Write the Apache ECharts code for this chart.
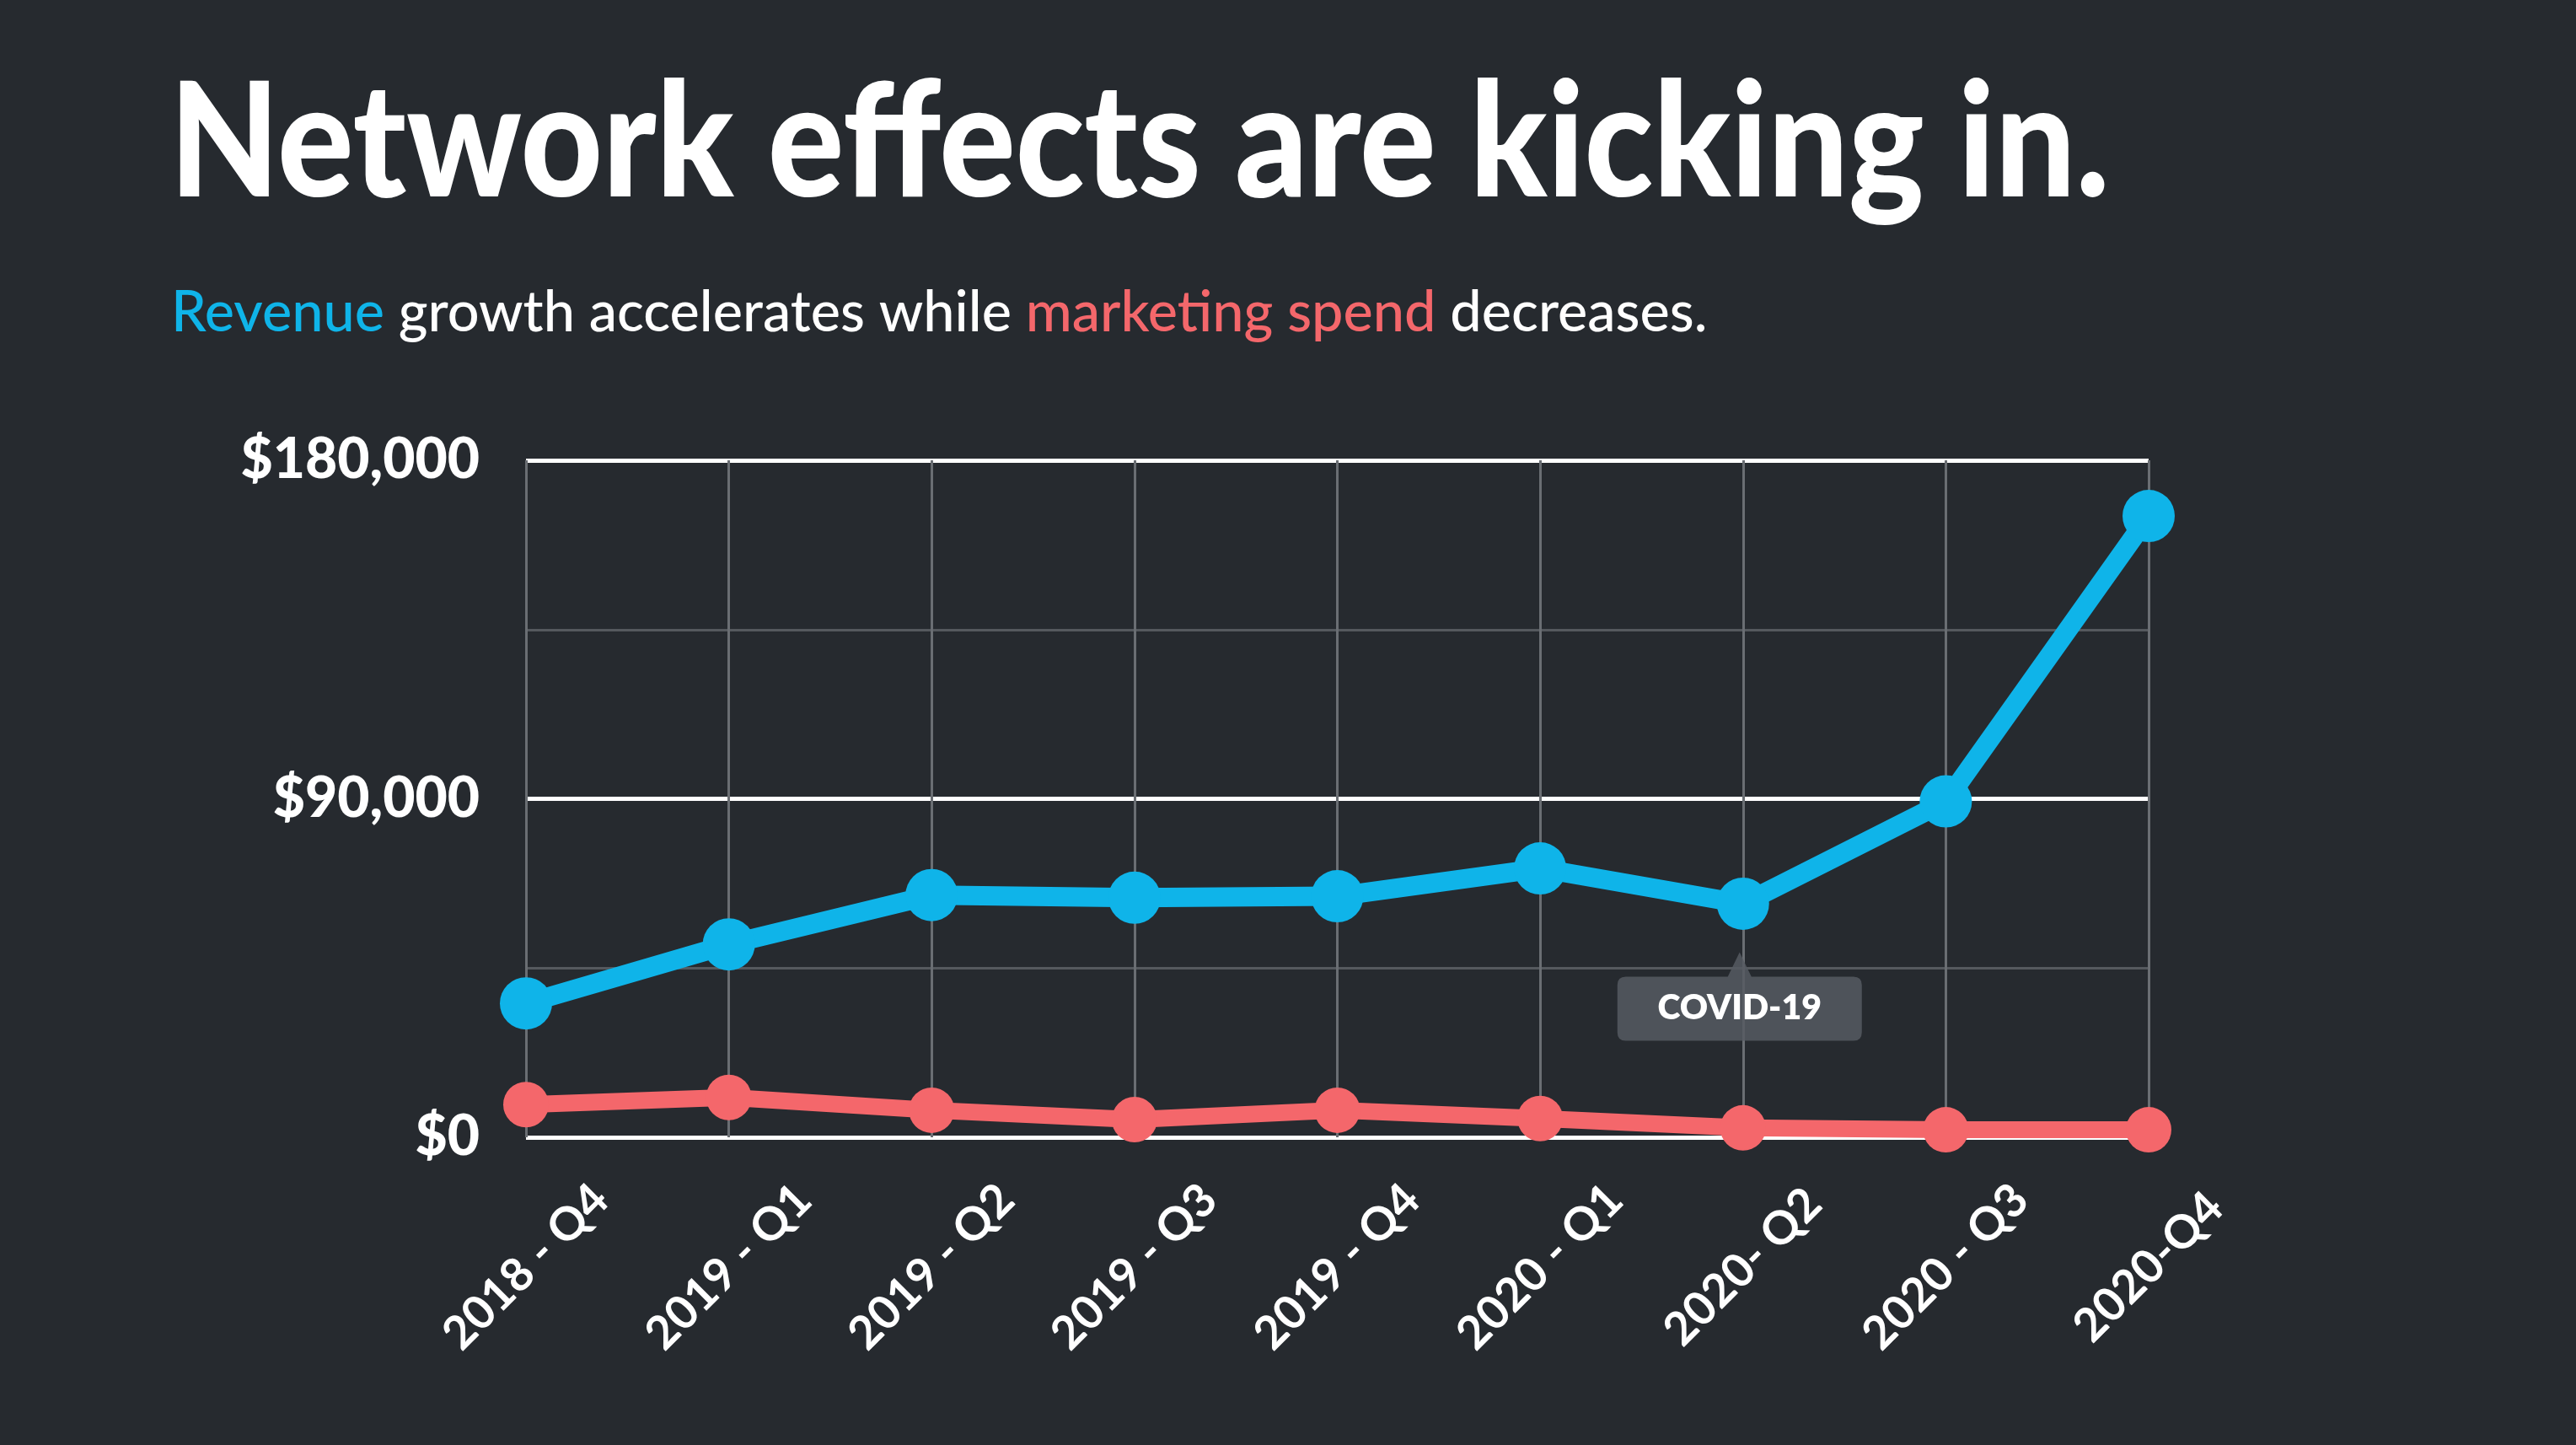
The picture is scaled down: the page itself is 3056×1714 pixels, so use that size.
<!DOCTYPE html>
<html>
<head>
<meta charset="utf-8">
<script src="https://cdn.jsdelivr.net/npm/echarts@6/dist/echarts.min.js"></script>
<style>
html,body{margin:0;padding:0;background:#262a2f;}
#chart{width:3056px;height:1714px;}
</style>
</head>
<body>
<div id="chart"></div>
<script>
const categories = ["2018 - Q4","2019 - Q1","2019 - Q2","2019 - Q3","2019 - Q4","2020 - Q1","2020- Q2","2020 - Q3","2020-Q4"];
const revenue = [35600, 51300, 64400, 63700, 64100, 71500, 62100, 89300, 165200];
const marketingSpend = [8700, 10600, 7200, 4700, 7200, 5000, 2500, 2000, 2000];
const yTicks = [0, 90000, 180000];
const annotationCategory = "2020- Q2";
const annotationText = "COVID-19";
const titleText = 'Network effects are kicking in.';

const BLUE = '#0fb4e9';
const RED = '#f4676b';
const BG = '#262a2f';

const chart = echarts.init(document.getElementById('chart'), null, {renderer:'canvas'});
const annIdx = categories.indexOf(annotationCategory);

chart.setOption({
  backgroundColor: BG,
  animation: false,
  graphic: [
    {
      type:'text', x:201, y:78, scaleX:0.898, scaleY:1,
      style:{text:titleText, fill:'#ffffff', fontFamily:'Lato', fontWeight:900, fontSize:188,
        textVerticalAlign:'top', verticalAlign:'top'}
    },
    {
      type:'text', x:203, y:338, scaleX:0.994, scaleY:1,
      style:{
        text:'{b|Revenue} growth accelerates while {r|marketing spend} decreases.',
        fill:'#ffffff', fontFamily:'Lato', fontWeight:500, fontSize:67, verticalAlign:'top',
        rich:{
          b:{fill:BLUE, fontFamily:'Lato', fontWeight:500, fontSize:67},
          r:{fill:RED, fontFamily:'Lato', fontWeight:500, fontSize:67}
        }
      }
    }
  ],
  grid: {left:624, right:507, top:546, bottom:365, containLabel:false},
  xAxis: {
    type:'category', data: categories, boundaryGap:false,
    axisLine:{show:false}, axisTick:{show:false},
    splitLine:{show:true, lineStyle:{color:'#6a6e73', width:3}},
    axisLabel:{color:'#ffffff', fontFamily:'Lato', fontWeight:700, fontSize:55,
      rotate:45, align:'center', verticalAlign:'middle', margin:154}
  },
  yAxis: {
    type:'value', min:0, max:180000, interval:90000,
    axisLine:{show:false}, axisTick:{show:false},
    splitLine:{show:true, lineStyle:{color:'#ffffff', width:5}},
    minorTick:{show:false, splitNumber:2},
    minorSplitLine:{show:true, lineStyle:{color:'#55595e', width:3}},
    axisLabel:{color:'#ffffff', fontFamily:'Lato', fontWeight:900, fontSize:66, margin:55,
      formatter: v => yTicks.includes(v) ? '$' + v.toLocaleString('en-US') : ''}
  },
  series: [
    {
      name:'Marketing spend', type:'line', data: marketingSpend,
      symbol:'circle', symbolSize:54, showSymbol:true,
      lineStyle:{color:RED, width:20}, itemStyle:{color:RED}, z:3
    },
    {
      name:'Revenue', type:'line', data: revenue,
      symbol:'circle', symbolSize:62,
      lineStyle:{color:BLUE, width:23}, itemStyle:{color:BLUE}, z:4,
      markPoint:{
        z:2,
        data:[{coord:[annIdx, revenue[annIdx]], value: annotationText}],
        symbol:'path://M10,29 L131,29 L145,0 L159,29 L280,29 Q290,29 290,39 L290,95 Q290,105 280,105 L10,105 Q0,105 0,95 L0,39 Q0,29 10,29 Z',
        symbolSize:[290,105], symbolOffset:[-4,110],
        itemStyle:{color:'rgba(86,90,97,0.85)'},
        label:{show:true, formatter: annotationText, color:'#ffffff', fontFamily:'Lato', fontWeight:800, fontSize:41, offset:[0,14]}
      }
    }
  ]
});
</script>
</body>
</html>
